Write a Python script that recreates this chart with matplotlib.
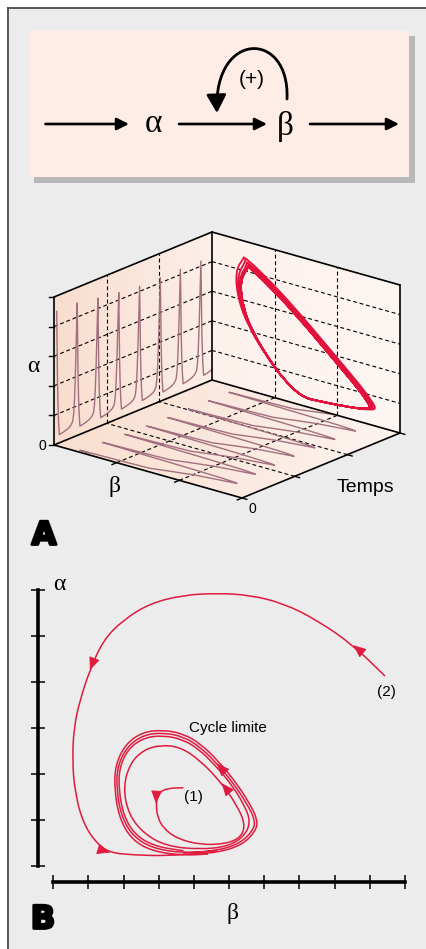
import numpy as np
import matplotlib
matplotlib.use("Agg")
import matplotlib.pyplot as plt
from matplotlib.patches import Polygon, Rectangle, FancyArrowPatch, PathPatch
from matplotlib.path import Path
from matplotlib.colors import LinearSegmentedColormap
import matplotlib.patheffects as pe

# =====================================
# Data
# =====================================

# one oscillation (spike peak -> next spike peak), values on 0..1 box axes
cycle_phase = [0.00, 0.01, 0.025, 0.04, 0.06, 0.09, 0.13, 0.35, 0.55, 0.68,
               0.75, 0.79, 0.83, 0.87, 0.91, 0.95, 0.98, 1.00]
cycle_beta = [0.83, 0.88, 0.86, 0.80, 0.72, 0.63, 0.52, 0.42, 0.32, 0.22,
              0.16, 0.125, 0.145, 0.22, 0.36, 0.55, 0.72, 0.83]
cycle_alpha = [0.90, 0.78, 0.58, 0.42, 0.28, 0.15, 0.055, 0.062, 0.072, 0.085,
               0.10, 0.115, 0.16, 0.26, 0.42, 0.64, 0.81, 0.90]

# spikes seen on the alpha / time wall
spike_time = [0.017, 0.147, 0.278, 0.41, 0.542, 0.673, 0.80, 0.93]
spike_peak = [0.895, 0.87, 0.85, 0.835, 0.835, 0.835, 0.835, 0.835]

# panel B, phase plane (beta ticks 0..10, alpha ticks 0..6)
traj2_beta = [9.43, 8.53, 7.49, 6.54, 5.59, 4.65, 3.70, 2.75, 1.99, 1.42, 1.04,
              0.76, 0.59, 0.54, 0.62, 0.85, 1.23, 1.61, 2.27, 3.22, 4.17,
              4.65, 5.36, 5.76, 5.81, 5.56, 5.17, 4.69, 4.20, 3.71, 3.13, 2.53,
              2.04, 1.76, 1.74, 1.88, 2.22, 2.81, 3.70, 4.40]
traj2_alpha = [4.13, 4.80, 5.35, 5.71, 5.89, 5.93, 5.89, 5.71, 5.35, 4.91, 4.26,
               3.61, 3.03, 2.30, 1.58, 0.93, 0.49, 0.29, 0.24, 0.22, 0.28,
               0.29, 0.45, 0.76, 1.01, 1.39, 1.84, 2.28, 2.65, 2.87, 2.96, 2.91,
               2.64, 2.18, 1.64, 1.04, 0.58, 0.32, 0.23, 0.26]

limit_beta = [3.70, 4.65, 5.31, 5.69, 5.74, 5.50, 5.12, 4.65, 4.17, 3.70, 3.13,
              2.56, 2.09, 1.82, 1.80, 1.94, 2.27, 2.84, 3.70, 4.65]
limit_alpha = [0.28, 0.33, 0.49, 0.78, 1.00, 1.36, 1.80, 2.23, 2.59, 2.81, 2.90,
               2.85, 2.59, 2.16, 1.65, 1.07, 0.64, 0.38, 0.28, 0.33]

traj1_beta = [3.70, 3.22, 2.99, 2.92, 2.96, 3.13, 3.51, 4.17, 4.93, 5.36, 5.45,
              5.21, 4.79, 4.17, 3.60, 3.03, 2.56, 2.18, 1.99, 2.13, 2.56, 3.22,
              4.17, 4.93, 5.40, 5.62, 5.42, 5.06, 4.60, 4.14, 3.68, 3.13, 2.58,
              2.13, 1.88, 1.86, 2.00, 2.32, 2.87, 3.70]
traj1_alpha = [1.70, 1.69, 1.58, 1.36, 1.07, 0.82, 0.60, 0.46, 0.48, 0.64, 0.93,
               1.33, 1.80, 2.30, 2.59, 2.63, 2.52, 2.23, 1.72, 1.14, 0.71, 0.43,
               0.36, 0.42, 0.62, 0.95, 1.34, 1.78, 2.19, 2.54, 2.75, 2.84, 2.79,
               2.55, 2.14, 1.66, 1.09, 0.68, 0.43, 0.33]

# arrowheads: index of the point they sit on
traj2_arrows = [1, 10, 17]
traj1_arrows = [3, 12]
limit_arrows = [7]

RED_A = "#e3123d"
RED_B = "#df1b3f"
MAUVE = "#a2707f"


def smooth_path(xs, ys):
    # quadratic B-spline through the read points (points act as control points)
    p = np.column_stack([xs, ys]).astype(float)
    mids = (p[:-1] + p[1:]) / 2
    verts = [p[0], mids[0]]
    codes = [Path.MOVETO, Path.LINETO]
    for i in range(1, len(p) - 1):
        verts += [p[i], mids[i]]
        codes += [Path.CURVE3, Path.CURVE3]
    verts.append(p[-1])
    codes.append(Path.LINETO)
    return Path(verts, codes)


# =====================================
# Figure and drawing canvas (pixel units)
# =====================================

fig = plt.figure(figsize=(4.26, 9.49), dpi=100)
fig.patch.set_facecolor("white")

cv = fig.add_axes([0, 0, 1, 1])
cv.axis("off")

cv.add_patch(Rectangle((8, 8), 440, 960, facecolor="#ececec",
                       edgecolor="none", zorder=0))
cv.plot([8, 8], [8, 960], color="#3c3c3c", lw=1.2, zorder=1)
cv.plot([8, 440], [8, 8], color="#3c3c3c", lw=1.2, zorder=1)

# =====================================
# Top scheme
# =====================================

cv.add_patch(Rectangle((34, 36), 381, 147, facecolor="#b8b8b8",
                       edgecolor="none", zorder=1))
cv.add_patch(Rectangle((30, 31), 379, 146, facecolor="#fdede6",
                       edgecolor="none", zorder=2))

for x0, x1 in [(45.5, 129), (179, 267), (310, 399)]:
    cv.add_patch(FancyArrowPatch((x0, 124), (x1, 124),
                                 arrowstyle="-|>,head_length=0.6,head_width=0.3",
                                 mutation_scale=12, lw=1.9, color="black",
                                 shrinkA=0, shrinkB=0, zorder=3))

loop = Path([(287, 99), (290, 30), (214, 30), (217, 113)],
            [Path.MOVETO, Path.CURVE4, Path.CURVE4, Path.CURVE4])
cv.add_patch(FancyArrowPatch(path=loop,
                             arrowstyle="-|>,head_length=0.55,head_width=0.3",
                             mutation_scale=20, lw=2.0, color="black", zorder=3))

serif = ["Liberation Serif", "DejaVu Serif"]
sans = ["Liberation Sans", "DejaVu Sans"]

cv.text(154, 124, "α", fontsize=24, family=serif, ha="center", va="center", zorder=4)
cv.text(285, 126, "β", fontsize=24, family=serif, ha="center", va="center", zorder=4)
cv.text(252, 79, "(+)", fontsize=15, family=sans, ha="center", va="center", zorder=4)

# =====================================
# Panel A : box with the three projections
# =====================================

O = np.array([242.0, 498.0])
VB = np.array([-188.0, -53.0])
VT = np.array([158.0, -65.0])
VA = np.array([0.0, -148.0])


def proj(b, t, a):
    b, t, a = np.broadcast_arrays(np.asarray(b, float), np.asarray(t, float),
                                  np.asarray(a, float))
    return (O[0] + b * VB[0] + t * VT[0] + a * VA[0],
            O[1] + b * VB[1] + t * VT[1] + a * VA[1])


def grad_fill(poly, c0, c1, z=2):
    pts = np.array(poly)
    cmap = LinearSegmentedColormap.from_list("g", [c0, c1])
    im = cv.imshow(np.linspace(0, 1, 128)[None, :], cmap=cmap, aspect="auto",
                   extent=(pts[:, 0].min(), pts[:, 0].max(),
                           pts[:, 1].max(), pts[:, 1].min()), zorder=z)
    clip = Polygon(pts, closed=True, facecolor="none", edgecolor="none")
    cv.add_patch(clip)
    im.set_clip_path(clip)


def corner(b, t, a):
    x, y = proj(b, t, a)
    return (float(x), float(y))


left_wall = [corner(1, 0, 0), corner(1, 1, 0), corner(1, 1, 1), corner(1, 0, 1)]
right_wall = [corner(1, 1, 0), corner(0, 1, 0), corner(0, 1, 1), corner(1, 1, 1)]
floor = [corner(0, 0, 0), corner(0, 1, 0), corner(1, 1, 0), corner(1, 0, 0)]

grad_fill(left_wall, "#f9ddce", "#fcefe9")
grad_fill(floor, "#f9dece", "#fdf4f0")
grad_fill(right_wall, "#fdf1ec", "#fdf6f3")

dash = dict(color="black", lw=0.8, ls=(0, (3.5, 2.5)), zorder=3)
for lev in [0.2, 0.4, 0.6, 0.8]:
    cv.plot(*proj(1, [0, 1], lev), **dash)
    cv.plot(*proj([1, 0], 1, lev), **dash)
for lev in [1 / 3, 2 / 3]:
    cv.plot(*proj(1, lev, [0, 1]), **dash)
    cv.plot(*proj(lev, 1, [0, 1]), **dash)
    cv.plot(*proj([0, 1], lev, 0), **dash)
    cv.plot(*proj(lev, [0, 1], 0), **dash)

# build the trajectory from the cycle profile; each cycle is scaled about
# the bottom of the fall so that the first spikes sit a little higher
kink_b, kink_a = cycle_beta[6], cycle_alpha[6]
T_all, B_all, A_all = [], [], []
ph = np.array(cycle_phase)
cb = np.array(cycle_beta)
ca = np.array(cycle_alpha)
for k, t0 in enumerate(spike_time):
    t1 = spike_time[k + 1] if k + 1 < len(spike_time) else t0 + (spike_time[-1] - spike_time[-2])
    s = (spike_peak[k] - kink_a) / (max(cycle_alpha) - kink_a)
    T_all.append(t0 + ph * (t1 - t0))
    B_all.append(kink_b + (cb - kink_b) * s)
    A_all.append(kink_a + (ca - kink_a) * s)
T_all = np.concatenate(T_all)
B_all = np.concatenate(B_all)
A_all = np.concatenate(A_all)
keep = T_all <= 1.005
T_all, B_all, A_all = T_all[keep], B_all[keep], A_all[keep]

cv.plot(*proj(1, T_all, A_all), color=MAUVE, lw=1.0, zorder=4,
        solid_joinstyle="round")
cv.plot(*proj(B_all, T_all, 0), color=MAUVE, lw=1.0, zorder=4,
        solid_joinstyle="round")
cv.add_patch(PathPatch(smooth_path(*proj(B_all, 1, A_all)), fill=False,
                       edgecolor=RED_A, lw=1.3, zorder=4, joinstyle="round"))

edge = dict(color="black", lw=1.2, zorder=5, solid_capstyle="round")
for a, b in [((1, 0, 0), (1, 0, 1)), ((1, 0, 1), (1, 1, 1)), ((1, 1, 0), (1, 1, 1)),
             ((1, 1, 1), (0, 1, 1)), ((0, 1, 1), (0, 1, 0)), ((1, 0, 0), (0, 0, 0)),
             ((0, 0, 0), (0, 1, 0)), ((1, 0, 0), (1, 1, 0)), ((1, 1, 0), (0, 1, 0))]:
    cv.plot(*proj([a[0], b[0]], [a[1], b[1]], [a[2], b[2]]), **edge)

tick = dict(color="black", lw=1.0, zorder=5)
for lev in [0, 0.2, 0.4, 0.6, 0.8, 1.0]:
    x, y = proj(1, 0, lev)
    cv.plot([x - 5, x], [y, y], **tick)
tdir = -VT / np.hypot(*VT) * 5
bdir = -VB / np.hypot(*VB) * 5
for lev in [0, 1 / 3, 2 / 3]:
    x, y = proj(lev, 0, 0)
    cv.plot([x, x + tdir[0]], [y, y + tdir[1]], **tick)
for lev in [0, 1 / 3, 2 / 3, 1]:
    x, y = proj(0, lev, 0)
    cv.plot([x, x + bdir[0]], [y, y + bdir[1]], **tick)

cv.text(42, 446, "0", fontsize=10, family=sans, ha="center", va="center", zorder=6)
cv.text(252, 509, "0", fontsize=10, family=sans, ha="center", va="center", zorder=6)
cv.text(33, 366, "α", fontsize=17, family=serif, ha="center", va="center", zorder=6)
cv.text(115, 486, "β", fontsize=17, family=serif, ha="center", va="center", zorder=6)
cv.text(365, 487, "Temps", fontsize=14, family=sans, ha="center", va="center", zorder=6)

heavy = [pe.withStroke(linewidth=2.0, foreground="black")]
cv.text(44, 536, "A", fontsize=23, fontweight="bold", family="DejaVu Sans",
        ha="center", va="center", zorder=6, path_effects=heavy)

# =====================================
# Panel B : phase plane
# =====================================

axB = fig.add_axes([53.3 / 426, 83 / 949, 351.7 / 426, 276 / 949])
axB.set_facecolor("none")
axB.set_xlim(0, 10)
axB.set_ylim(0, 6)
axB.set_xticks(range(11))
axB.set_yticks(range(7))
axB.set_xticklabels([])
axB.set_yticklabels([])
for side in ["top", "right"]:
    axB.spines[side].set_visible(False)
axB.spines["left"].set_position(("outward", 10.8))
axB.spines["bottom"].set_position(("outward", 11.3))
axB.spines["left"].set_bounds(0, 6)
axB.spines["bottom"].set_bounds(0, 10)
for side in ["left", "bottom"]:
    axB.spines[side].set_linewidth(2.6)
axB.tick_params(direction="inout", length=9.5, width=1.1, color="black")


def draw_path(bs, as_, arrows):
    axB.add_patch(PathPatch(smooth_path(bs, as_), fill=False, edgecolor=RED_B,
                            lw=1.1, joinstyle="round", clip_on=False))
    for i in arrows:
        tip = np.array([bs[i], as_[i]])
        d = np.array([bs[i + 1] - bs[i - 1], as_[i + 1] - as_[i - 1]])
        tail = tip - d * 0.03
        axB.add_patch(FancyArrowPatch(tuple(tail), tuple(tip),
                                      arrowstyle="-|>,head_length=0.9,head_width=0.38",
                                      mutation_scale=9, lw=0.6, color=RED_B,
                                      shrinkA=0, shrinkB=0))


draw_path(traj2_beta, traj2_alpha, traj2_arrows)
draw_path(limit_beta, limit_alpha, limit_arrows)
draw_path(traj1_beta, traj1_alpha, traj1_arrows)

axB.text(4.97, 3.00, "Cycle limite", fontsize=11, family=sans, ha="center", va="center")
axB.text(3.98, 1.49, "(1)", fontsize=11, family=sans, ha="center", va="center")
axB.text(9.46, 3.79, "(2)", fontsize=11, family=sans, ha="center", va="center")

cv.text(59, 584, "α", fontsize=17, family=serif, ha="center", va="center", zorder=6)
cv.text(233, 914, "β", fontsize=17, family=serif, ha="center", va="center", zorder=6)
cv.text(43, 920, "B", fontsize=23, fontweight="bold", family="DejaVu Sans",
        ha="center", va="center", zorder=6, path_effects=heavy)

cv.set_xlim(0, 426)
cv.set_ylim(949, 0)

fig.savefig("out.png", dpi=100)
